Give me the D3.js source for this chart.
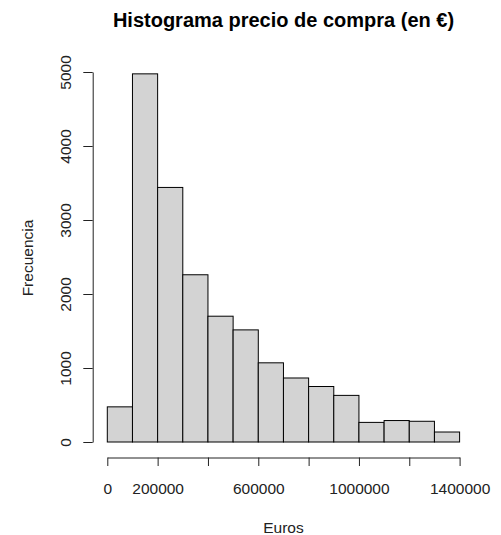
<!DOCTYPE html>
<html>
<head>
<meta charset="utf-8">
<script src="https://cdn.jsdelivr.net/npm/d3@7"></script>
<style>
  html, body { margin: 0; padding: 0; background: #fff; }
  text { font-family: "Liberation Sans", Arial, sans-serif; }
</style>
</head>
<body>
<svg id="chart" width="501" height="535"></svg>
<script>
// Histogram bins (euros) and counts
const binStarts = [0, 100000, 200000, 300000, 400000, 500000, 600000, 700000, 800000, 900000, 1000000, 1100000, 1200000, 1300000];
const binWidth = 100000;
const counts = [475, 4975, 3440, 2260, 1700, 1515, 1070, 865, 750, 630, 265, 290, 280, 135];
const xTicks = [0, 200000, 400000, 600000, 800000, 1000000, 1200000, 1400000];
const xTickLabels = ["0", "200000", "", "600000", "", "1000000", "", "1400000"];
const yTicks = [0, 1000, 2000, 3000, 4000, 5000];

const labelSize = 15.5;
const svg = d3.select("#chart");

const x = d3.scaleLinear().domain([0, 1400000]).range([107.3, 459.6]);
const y = d3.scaleLinear().domain([0, 5000]).range([442, 72]);

// Bars
svg.append("g")
  .selectAll("rect")
  .data(binStarts)
  .join("rect")
  .attr("x", (d) => x(d))
  .attr("y", (d, i) => y(counts[i]))
  .attr("width", (d) => x(d + binWidth) - x(d))
  .attr("height", (d, i) => y(0) - y(counts[i]))
  .attr("fill", "#d3d3d3")
  .attr("stroke", "#000")
  .attr("stroke-width", 1);

// X axis
const xAxis = d3.axisBottom(x)
  .tickValues(xTicks)
  .tickFormat((d, i) => xTickLabels[i])
  .tickSize(8.5)
  .tickPadding(0)
  .tickSizeOuter(0);
const gx = svg.append("g").attr("transform", "translate(0,457.5)").call(xAxis);
gx.select(".domain").attr("stroke", "#222");
gx.selectAll(".tick line").attr("stroke", "#222");
gx.selectAll(".tick text")
  .attr("font-size", labelSize).attr("fill", "#222")
  .attr("font-family", "Liberation Sans, Arial, sans-serif")
  .attr("y", 36.5).attr("dy", null);

// Y axis
const yAxis = d3.axisLeft(y)
  .tickValues(yTicks)
  .tickFormat(d3.format("d"))
  .tickSize(9.4)
  .tickPadding(0)
  .tickSizeOuter(0);
const gy = svg.append("g").attr("transform", "translate(92.7,0)").call(yAxis);
gy.select(".domain").attr("stroke", "#222");
gy.selectAll(".tick line").attr("stroke", "#222");
gy.selectAll(".tick text")
  .attr("font-size", labelSize).attr("fill", "#222")
  .attr("font-family", "Liberation Sans, Arial, sans-serif")
  .attr("x", null).attr("dy", null)
  .attr("text-anchor", "middle")
  .attr("transform", "translate(-22,0) rotate(-90)");

// Title
svg.append("text")
  .attr("x", 283.5).attr("y", 26.5)
  .attr("text-anchor", "middle")
  .attr("font-size", 20).attr("font-weight", "bold")
  .attr("fill", "#000")
  .text("Histograma precio de compra (en €)");

// Axis titles
svg.append("text")
  .attr("x", 283.5).attr("y", 533)
  .attr("text-anchor", "middle")
  .attr("font-size", labelSize).attr("fill", "#222")
  .text("Euros");

svg.append("text")
  .attr("transform", "translate(33.3,258) rotate(-90)")
  .attr("text-anchor", "middle")
  .attr("font-size", labelSize).attr("fill", "#222")
  .text("Frecuencia");
</script>
</body>
</html>
